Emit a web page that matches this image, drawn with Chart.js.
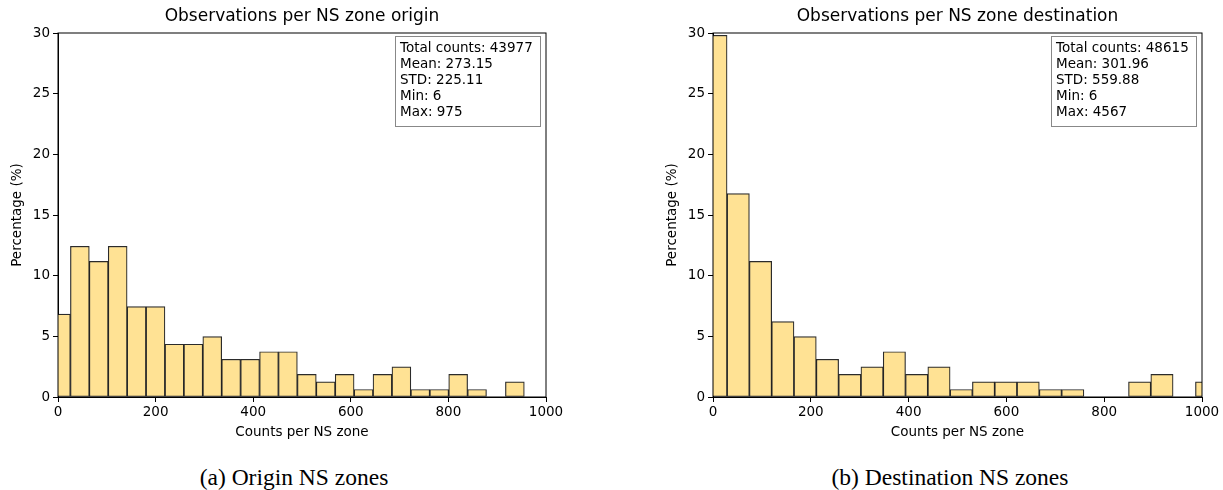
<!DOCTYPE html>
<html>
<head>
<meta charset="utf-8">
<script src="https://cdn.jsdelivr.net/npm/chart.js@4.4.0/dist/chart.umd.min.js"></script>
<style>
  body { margin: 0; background: #fff; width: 1223px; height: 490px; position: relative; overflow: hidden; }
  .box { position: absolute; top: 0; height: 450px; }
  .caption { position: absolute; top: 462px; font-family: "Liberation Serif", serif; font-size: 23.5px; line-height: 30px; color: #000; text-align: center; width: 400px; }
</style>
</head>
<body>
<div class="box" style="left:0; width:612px;"><canvas id="originChart"></canvas></div>
<div class="box" style="left:612px; width:611px;"><canvas id="destChart"></canvas></div>
<div class="caption" style="left:94px;">(a) Origin NS zones</div>
<div class="caption" style="left:750px;">(b) Destination NS zones</div>
<script>
// bin centres (counts per NS zone) and percentage per bin
const originBins = [6, 44.8, 83.5, 122.3, 161.0, 199.8, 238.6, 277.3, 316.1, 354.8, 393.6, 432.4, 471.1,
    509.9, 548.6, 587.4, 626.2, 664.9, 703.7, 742.4, 781.2, 820.0, 858.7, 897.5, 936.2];
const originPct = [6.83, 12.42, 11.18, 12.42, 7.45, 7.45, 4.35, 4.35, 4.97, 3.11, 3.11, 3.73, 3.73,
    1.86, 1.24, 1.86, 0.62, 1.86, 2.48, 0.62, 0.62, 1.86, 0.62, 0, 1.24];

const destBins = [6, 51.6, 97.2, 142.8, 188.4, 234.1, 279.7, 325.3, 370.9, 416.5, 462.1, 507.7,
    553.3, 598.9, 644.5, 690.1, 735.7, 781.3, 826.9, 872.5, 918.1, 963.7, 1009.4];
const destPct = [29.81, 16.77, 11.18, 6.21, 4.97, 3.11, 1.86, 2.48, 3.73, 1.86, 2.48, 0.62,
    1.24, 1.24, 1.24, 0.62, 0.62, 0, 0, 1.24, 1.86, 0, 1.24];

const originStats = ['Total counts: 43977', 'Mean: 273.15', 'STD: 225.11', 'Min: 6', 'Max: 975'];
const destStats = ['Total counts: 48615', 'Mean: 301.96', 'STD: 559.88', 'Min: 6', 'Max: 4567'];

const xTicks = [0, 200, 400, 600, 800, 1000];
const yTicks = [0, 5, 10, 15, 20, 25, 30];

const FONT = 'DejaVu Sans';

// title, frame, axis titles and stats box drawn on top of the chart
const decorPlugin = {
    id: 'decor',
    afterDraw(chart, args, opts) {
        const { ctx, chartArea: a } = chart;
        ctx.save();
        ctx.strokeStyle = '#000';
        ctx.lineWidth = 1;
        ctx.strokeRect(a.left, a.top, a.right - a.left, a.bottom - a.top);

        ctx.fillStyle = '#000';
        ctx.textAlign = 'center';
        ctx.textBaseline = 'middle';
        ctx.font = '17px "' + FONT + '"';
        ctx.fillText(opts.title, (a.left + a.right) / 2, 17);

        ctx.font = '13.5px "' + FONT + '"';
        ctx.fillText('Counts per NS zone', (a.left + a.right) / 2, 432);
        ctx.save();
        ctx.translate(a.left - 41, (a.top + a.bottom) / 2);
        ctx.rotate(-Math.PI / 2);
        ctx.fillText('Percentage (%)', 0, 0);
        ctx.restore();

        // stats box
        const bx = a.right - 151, by = a.top + 3, bw = 145, bh = 90;
        ctx.fillStyle = '#fff';
        ctx.fillRect(bx, by, bw, bh);
        ctx.strokeStyle = '#888';
        ctx.strokeRect(bx + 0.5, by + 0.5, bw, bh);
        ctx.fillStyle = '#000';
        ctx.textAlign = 'left';
        ctx.font = '13.5px "' + FONT + '"';
        opts.stats.forEach((line, i) => {
            ctx.fillText(line, bx + 5, by + 12 + i * 16);
        });
        ctx.restore();
    }
};

function makeChart(id, bins, pct, title, stats, plotLeft, padRight) {
    const ctx = document.getElementById(id).getContext('2d');
    return new Chart(ctx, {
        type: 'bar',
        data: {
            datasets: [{
                data: bins.map((b, i) => ({ x: b, y: pct[i] })),
                backgroundColor: 'rgb(255, 226, 148)',
                borderColor: 'rgba(20, 20, 20, 0.9)',
                borderWidth: 1.2,
                borderSkipped: false,
                barPercentage: 1,
                categoryPercentage: 1,
                grouped: false
            }]
        },
        options: {
            responsive: true,
            maintainAspectRatio: false,
            animation: false,
            layout: { padding: { left: 0, right: padRight, top: 33, bottom: 0 } },
            plugins: {
                legend: { display: false },
                tooltip: { enabled: false },
                decor: { title: title, stats: stats }
            },
            scales: {
                x: {
                    type: 'linear',
                    offset: false,
                    min: 0,
                    max: 1000,
                    afterBuildTicks: scale => { scale.ticks = xTicks.map(v => ({ value: v })); },
                    afterFit: scale => { scale.height = 53; },
                    grid: { drawOnChartArea: false, drawTicks: true, tickLength: 5, color: '#000', offset: false },
                    border: { display: true, color: '#000' },
                    ticks: { color: '#000', font: { family: FONT, size: 13.5 }, padding: 2, maxRotation: 0,
                        callback: v => String(v) }
                },
                y: {
                    min: 0,
                    max: 30,
                    afterBuildTicks: scale => { scale.ticks = yTicks.map(v => ({ value: v })); },
                    afterFit: scale => { scale.width = plotLeft; },
                    grid: { drawOnChartArea: false, drawTicks: true, tickLength: 5, color: '#000' },
                    border: { display: true, color: '#000' },
                    ticks: { color: '#000', font: { family: FONT, size: 13.5 }, padding: 3 }
                }
            }
        },
        plugins: [decorPlugin]
    });
}

makeChart('originChart', originBins, originPct, 'Observations per NS zone origin', originStats, 58, 66);
makeChart('destChart', destBins, destPct, 'Observations per NS zone destination', destStats, 101, 21);
</script>
</body>
</html>
